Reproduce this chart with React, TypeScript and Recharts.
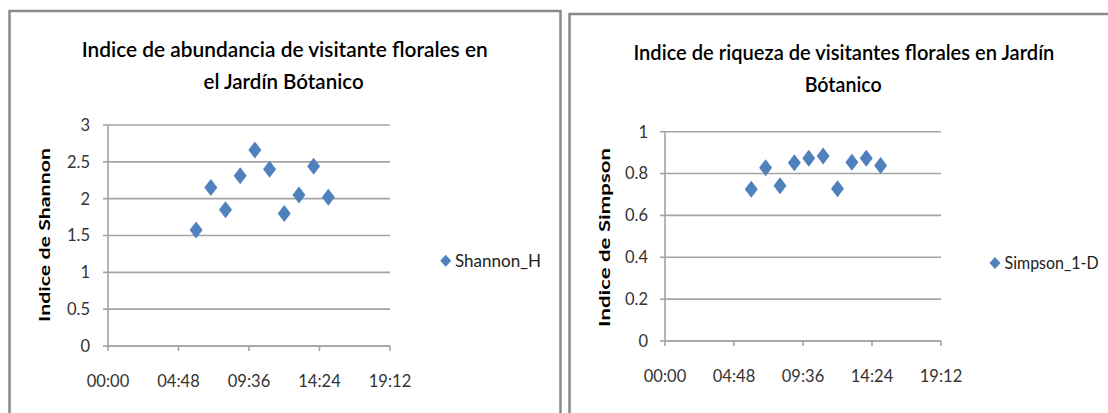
import React from 'react';
import { ScatterChart, Scatter, XAxis, YAxis, CartesianGrid } from 'recharts';

// horas de muestreo
const horas = ['06:00', '07:00', '08:00', '09:00', '10:00', '11:00', '12:00', '13:00', '14:00', '15:00'];
const shannonH = [1.575, 2.15, 1.85, 2.31, 2.66, 2.4, 1.8, 2.05, 2.44, 2.02];
const simpson1D = [0.725, 0.828, 0.742, 0.852, 0.873, 0.884, 0.728, 0.854, 0.873, 0.838];

const xTicks = [0, 4.8, 9.6, 14.4, 19.2];
const shannonTicks = [0, 0.5, 1, 1.5, 2, 2.5, 3];
const simpsonTicks = [0, 0.2, 0.4, 0.6, 0.8, 1];

const BLUE = '#4f81bd';
const GRID = '#a3a3a3';
const FONT = 'Lato, "Open Sans", sans-serif';

const toHours = (s: string) => {
  const [h, m] = s.split(':').map(Number);
  return h + m / 60;
};

const fmtTime = (v: number) => {
  const h = Math.floor(v + 1e-9);
  const m = Math.round((v - h) * 60);
  return `${String(h).padStart(2, '0')}:${String(m).padStart(2, '0')}`;
};

const shannonData = horas.map((h, i) => ({ hora: toHours(h), valor: shannonH[i] }));
const simpsonData = horas.map((h, i) => ({ hora: toHours(h), valor: simpson1D[i] }));

const Diamond = (props: any) => {
  const { cx, cy } = props;
  if (cx == null || cy == null) return null;
  const w = 6.5;
  const h = 8.5;
  return <polygon points={`${cx},${cy - h} ${cx + w},${cy} ${cx},${cy + h} ${cx - w},${cy}`} fill={BLUE} />;
};

const tickStyle = { fontSize: 16.5, fontFamily: FONT, fill: '#333' };

function Panel({ data, yTicks, yMax, width, margin, yTickMargin }: any) {
  return (
    <ScatterChart width={width} height={413} margin={margin}>
      <CartesianGrid horizontal vertical={false} stroke={GRID} strokeWidth={1.6} />
      <XAxis
        type="number"
        dataKey="hora"
        domain={[0, 19.2]}
        ticks={xTicks}
        tickFormatter={fmtTime}
        interval={0}
        height={40}
        stroke={GRID}
        strokeWidth={1.6}
        tickSize={5}
        tickMargin={24}
        tick={tickStyle}
      />
      <YAxis
        type="number"
        dataKey="valor"
        domain={[0, yMax]}
        ticks={yTicks}
        interval={0}
        width={60}
        stroke={GRID}
        strokeWidth={1.6}
        tickSize={5}
        tickMargin={yTickMargin}
        tick={tickStyle}
      />
      <Scatter data={data} shape={<Diamond />} isAnimationActive={false} />
    </ScatterChart>
  );
}

export default function App() {
  return (
    <div style={{ position: 'absolute', left: 0, top: 0, width: 1108, height: 413, background: '#fff', overflow: 'hidden' }}>
      <div style={{ position: 'absolute', left: 0, top: 0 }}>
        <Panel
          data={shannonData}
          yTicks={shannonTicks}
          yMax={3}
          width={560}
          margin={{ top: 125, right: 170, bottom: 27, left: 48 }}
          yTickMargin={13}
        />
      </div>
      <div style={{ position: 'absolute', left: 560, top: 0 }}>
        <Panel
          data={simpsonData}
          yTicks={simpsonTicks}
          yMax={1}
          width={548}
          margin={{ top: 131.7, right: 167, bottom: 32, left: 45 }}
          yTickMargin={12}
        />
      </div>
      <svg width={1108} height={413} style={{ position: 'absolute', left: 0, top: 0, pointerEvents: 'none' }}>
        {/* marcos */}
        <path d="M9.5,413 V11 H560.5 V413" fill="none" stroke="#8a8a8a" strokeWidth={2.5} />
        <path d="M569.5,413 V14 H1110" fill="none" stroke="#8a8a8a" strokeWidth={2.5} />

        {/* títulos */}
        <g fontFamily={FONT} fontWeight={600} fontSize={21.5} fill="#000">
          <text x={81.7} y={56.7} textLength={406} lengthAdjust="spacingAndGlyphs">Indice de abundancia de visitante florales en</text>
          <text x={203.6} y={89.3} textLength={160} lengthAdjust="spacingAndGlyphs">el Jardín Bótanico</text>
          <text x={633.4} y={59.5} textLength={421} lengthAdjust="spacingAndGlyphs">Indice de riqueza de visitantes florales en Jardín</text>
          <text x={804.7} y={92} textLength={77} lengthAdjust="spacingAndGlyphs">Bótanico</text>
        </g>

        {/* ejes Y */}
        <g fontFamily={FONT} fontWeight={700} fontSize={16} fill="#000">
          <text x={0} y={0} transform="translate(49.5,322) rotate(-90)" textLength={174} lengthAdjust="spacingAndGlyphs">Indice de Shannon</text>
          <text x={0} y={0} transform="translate(609.5,327) rotate(-90)" textLength={179} lengthAdjust="spacingAndGlyphs">Indice de Simpson</text>
        </g>

        {/* leyendas */}
        <polygon points="445.7,254.7 451.2,260.7 445.7,266.7 440.2,260.7" fill={BLUE} />
        <polygon points="995,257 1000.5,263 995,269 989.5,263" fill={BLUE} />
        <g fontFamily={FONT} fontSize={17.5} fill="#222">
          <text x={455} y={267} textLength={86} lengthAdjust="spacingAndGlyphs">Shannon_H</text>
          <text x={1004.6} y={269} textLength={94} lengthAdjust="spacingAndGlyphs">Simpson_1-D</text>
        </g>
      </svg>
    </div>
  );
}
